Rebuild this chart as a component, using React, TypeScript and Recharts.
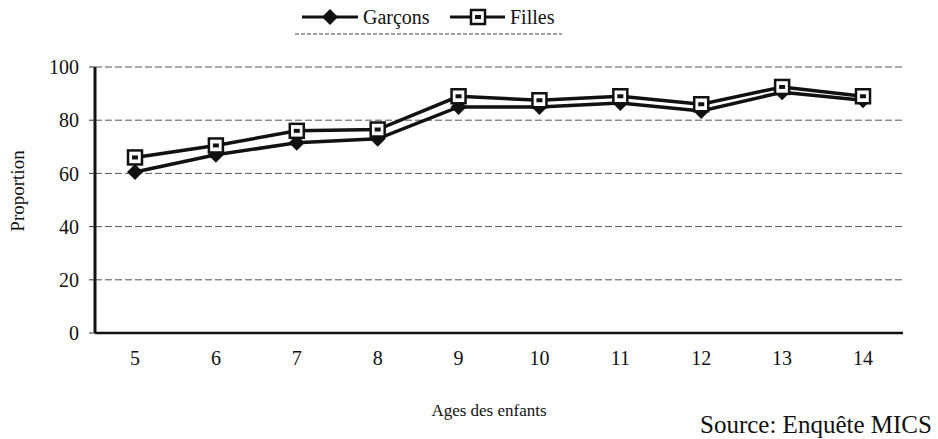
import React from "react";
import { CartesianGrid, Line, LineChart, XAxis, YAxis } from "recharts";

const ages = ["5", "6", "7", "8", "9", "10", "11", "12", "13", "14"];
const garcons = [60.5, 67, 71.5, 73, 85, 85, 86.5, 83.5, 90.5, 87.5];
const filles = [66, 70.5, 76, 76.5, 89, 87.5, 89, 86, 92.5, 89];
const yTicks = [0, 20, 40, 60, 80, 100];

const data = ages.map((age, i) => ({ age, garcons: garcons[i], filles: filles[i] }));

const FONT = "'Liberation Serif', 'Times New Roman', serif";
const INK = "#111";
const PAD = { left: 40, right: 40 };

const Diamond = ({ cx, cy }: { cx?: number; cy?: number }) => {
  if (cx == null || cy == null) return null;
  const r = 8;
  return (
    <polygon
      points={`${cx},${cy - r} ${cx + r},${cy} ${cx},${cy + r} ${cx - r},${cy}`}
      fill={INK}
    />
  );
};

const Square = ({ cx, cy }: { cx?: number; cy?: number }) => {
  if (cx == null || cy == null) return null;
  return (
    <g>
      <rect x={cx - 7} y={cy - 7} width={14} height={14} fill="#fff" stroke={INK} strokeWidth={2.5} />
      <rect x={cx - 3} y={cy - 2} width={6} height={4} fill={INK} />
    </g>
  );
};

// legend drawn by hand so the markers sit on the line like the scan
const LegendBox = () => (
  <svg width={300} height={36} style={{ display: "block" }}>
    <line x1={7} y1={17} x2={63} y2={17} stroke={INK} strokeWidth={3} />
    <Diamond cx={35} cy={17} />
    <text x={68} y={24} fontSize={20} fontFamily={FONT} fill={INK}>
      Garçons
    </text>
    <line x1={155} y1={17} x2={210} y2={17} stroke={INK} strokeWidth={3} />
    <Square cx={183} cy={17} />
    <text x={215} y={24} fontSize={20} fontFamily={FONT} fill={INK}>
      Filles
    </text>
    <line x1={0} y1={34} x2={267} y2={34} stroke="#444" strokeWidth={1} strokeDasharray="4 2" />
  </svg>
);

export default function App() {
  return (
    <div style={{ position: "absolute", left: 0, top: 0, width: 938, height: 439, background: "#fff", fontFamily: FONT }}>
      <LineChart
        width={938}
        height={439}
        data={data}
        margin={{ top: 67, right: 35, bottom: 60, left: 55 }}
      >
        <CartesianGrid vertical={false} stroke="#555" strokeDasharray="7 3" />
        <XAxis
          dataKey="age"
          padding={PAD}
          tickLine={false}
          tickSize={0}
          tickMargin={18}
          height={46}
          axisLine={{ stroke: INK, strokeWidth: 2.5 }}
          tick={{ fill: INK, fontSize: 20, fontFamily: FONT }}
          label={{ value: "Ages des enfants", position: "insideBottom", offset: -37, dx: -10, fill: INK, fontSize: 17, fontFamily: FONT }}
        />
        <XAxis xAxisId="top" orientation="top" dataKey="age" padding={PAD} height={0} tick={false} tickLine={false} axisLine={{ stroke: INK, strokeWidth: 2 }} />
        <YAxis
          domain={[0, 100]}
          ticks={yTicks}
          width={40}
          tickSize={6}
          tickMargin={10}
          tickLine={{ stroke: "#333" }}
          axisLine={{ stroke: INK, strokeWidth: 3 }}
          tick={{ fill: INK, fontSize: 20, fontFamily: FONT }}
        />
        <YAxis yAxisId="right" orientation="right" domain={[0, 100]} width={0} tick={false} tickLine={false} axisLine={{ stroke: INK, strokeWidth: 2 }} />
        <Line
          dataKey="garcons"
          name="Garçons"
          stroke={INK}
          strokeWidth={3.5}
          dot={(p: any) => <Diamond key={`g${p.index}`} cx={p.cx} cy={p.cy} />}
          activeDot={false}
          isAnimationActive={false}
        />
        <Line
          dataKey="filles"
          name="Filles"
          stroke={INK}
          strokeWidth={3.5}
          dot={(p: any) => <Square key={`f${p.index}`} cx={p.cx} cy={p.cy} />}
          activeDot={false}
          isAnimationActive={false}
        />
      </LineChart>
      <svg width={40} height={439} style={{ position: "absolute", left: 0, top: 0 }}>
        <text x={24} y={191} transform="rotate(-90 24 191)" textAnchor="middle" fontSize={19} fontFamily={FONT} fill={INK}>
          Proportion
        </text>
      </svg>
      <div style={{ position: "absolute", left: 295, top: 0 }}>
        <LegendBox />
      </div>
      <div style={{ position: "absolute", left: 700, top: 411, fontSize: 25, color: INK, fontFamily: FONT, whiteSpace: "nowrap" }}>
        Source: Enquête MICS
      </div>
    </div>
  );
}
